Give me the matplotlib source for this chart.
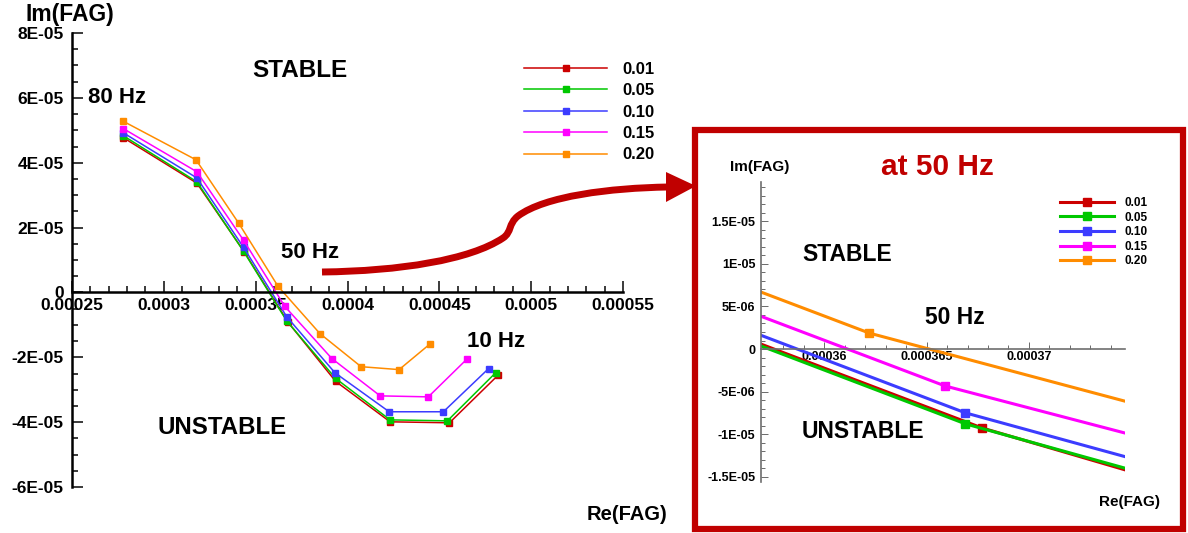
import matplotlib
matplotlib.use('Agg')
import matplotlib.pyplot as plt
from matplotlib.path import Path
from matplotlib.patches import PathPatch, Rectangle, Polygon
from matplotlib.ticker import MultipleLocator, FixedLocator
from matplotlib.lines import Line2D

plt.rcParams['font.family'] = ['Liberation Sans', 'DejaVu Sans']
plt.rcParams['font.weight'] = 'bold'

###################################################### data
# FAG trajectory from 80 Hz down to 10 Hz, one curve per parameter value
freqs = [80, 70, 60, 50, 40, 30, 20, 10]
cases = ['0.01', '0.05', '0.10', '0.15', '0.20']
colors = ['#cc0000', '#00c800', '#3c3cff', '#ff00ff', '#ff8c00']

re_001 = [0.000278, 0.000318, 0.0003438, 0.0003677, 0.0003935, 0.0004232, 0.0004555, 0.0004822]
im_001 = [4.77e-5, 3.37e-5, 1.25e-5, -9.25e-6, -2.74e-5, -3.99e-5, -4.02e-5, -2.54e-5]

re_005 = [0.000278, 0.000318, 0.0003434, 0.0003669, 0.0003935, 0.0004232, 0.0004544, 0.0004806]
im_005 = [4.83e-5, 3.41e-5, 1.27e-5, -8.78e-6, -2.65e-5, -3.93e-5, -3.96e-5, -2.48e-5]

re_010 = [0.000278, 0.000318, 0.0003434, 0.0003669, 0.0003932, 0.0004227, 0.0004522, 0.0004768]
im_010 = [4.92e-5, 3.53e-5, 1.39e-5, -7.49e-6, -2.48e-5, -3.68e-5, -3.68e-5, -2.35e-5]

re_015 = [0.000278, 0.000318, 0.0003434, 0.0003659, 0.0003915, 0.0004178, 0.000444, 0.0004653]
im_015 = [5.05e-5, 3.72e-5, 1.61e-5, -4.33e-6, -2.04e-5, -3.19e-5, -3.22e-5, -2.04e-5]

re_020 = [0.0002775, 0.0003175, 0.0003407, 0.0003622, 0.000385, 0.0004074, 0.0004281, 0.0004451]
im_020 = [5.29e-5, 4.09e-5, 2.14e-5, 1.87e-6, -1.27e-5, -2.29e-5, -2.38e-5, -1.58e-5]

series = [(re_001, im_001), (re_005, im_005), (re_010, im_010), (re_015, im_015), (re_020, im_020)]

main_xticks = [0.00025, 0.0003, 0.00035, 0.0004, 0.00045, 0.0005, 0.00055]
main_xlabels = ['0.00025', '0.0003', '0.00035', '0.0004', '0.00045', '0.0005', '0.00055']
main_yticks = [-6e-5, -4e-5, -2e-5, 0, 2e-5, 4e-5, 6e-5, 8e-5]
main_ylabels = ['-6E-05', '-4E-05', '-2E-05', '0', '2E-05', '4E-05', '6E-05', '8E-05']

zoom_xticks = [0.00036, 0.000365, 0.00037]
zoom_xlabels = ['0.00036', '0.000365', '0.00037']
zoom_yticks = [-1.5e-5, -1e-5, -5e-6, 0, 5e-6, 1e-5, 1.5e-5]
zoom_ylabels = ['-1.5E-05', '-1E-05', '-5E-06', '0', '5E-06', '1E-05', '1.5E-05']

W, H = 1188, 533
fig = plt.figure(figsize=(W / 100, H / 100), dpi=100)


def px_box(x0, y0, x1, y1):
    # pixel box (top-left origin) -> figure fraction rect
    return [x0 / W, 1 - y1 / H, (x1 - x0) / W, (y1 - y0) / H]


def style_axes(ax, color, lw, major_len, minor_len, fs, xpad, ypad):
    for s in ['top', 'right']:
        ax.spines[s].set_visible(False)
    ax.spines['bottom'].set_position(('data', 0))
    for s in ['left', 'bottom']:
        ax.spines[s].set_color(color)
        ax.spines[s].set_linewidth(lw)
    ax.tick_params(which='both', direction='in', colors=color, width=lw * 0.6)
    ax.tick_params(which='major', length=major_len)
    ax.tick_params(which='minor', length=minor_len)
    ax.tick_params(axis='x', which='major', pad=xpad, labelsize=fs, labelcolor='black')
    ax.tick_params(axis='y', which='major', pad=ypad, labelsize=fs, labelcolor='black')
    for lab in ax.get_xticklabels() + ax.get_yticklabels():
        lab.set_fontweight('bold')
    ax.set_facecolor('none')


###################################################### main plot
ax = fig.add_axes(px_box(72, 33, 623, 487))
for (re, im), c in zip(series, colors):
    ax.plot(re, im, color=c, lw=1.1, marker='s', ms=4.5, clip_on=False)
ax.set_xlim(0.00025, 0.00055)
ax.set_ylim(-6e-5, 8e-5)
ax.xaxis.set_major_locator(FixedLocator(main_xticks))
ax.set_xticklabels(main_xlabels)
ax.yaxis.set_major_locator(FixedLocator(main_yticks))
ax.set_yticklabels(main_ylabels)
ax.xaxis.set_minor_locator(MultipleLocator(0.00001))
ax.yaxis.set_minor_locator(MultipleLocator(0.5e-5))
style_axes(ax, 'black', 1.8, 8, 4, 12.5, 4, 6)

ax.text(0.0002587, 6.0e-5, '80 Hz', fontsize=16, va='center')
ax.text(0.0003484, 6.84e-5, 'STABLE', fontsize=17.5, va='center')
ax.text(0.0003637, 1.24e-5, '50 Hz', fontsize=16, va='center')
ax.text(0.0004653, -1.52e-5, '10 Hz', fontsize=16, va='center')
ax.text(0.0002964, -4.18e-5, 'UNSTABLE', fontsize=17.3, va='center')

handles = [Line2D([], [], color=c, lw=1.1, marker='s', ms=4.5) for c in colors]
fig.legend(handles, cases, loc='upper left', bbox_to_anchor=(524 / W, 1 - 62 / H),
           frameon=False, fontsize=12, handlelength=5, handletextpad=0.9,
           labelspacing=0.38, borderpad=0, borderaxespad=0)

fig.text(70 / W, 1 - 15 / H, 'Im(FAG)', fontsize=16.5, ha='center', va='center')
fig.text(627 / W, 1 - 514 / H, 'Re(FAG)', fontsize=14.5, ha='center', va='center')

###################################################### zoom at 50 Hz
overlay = fig.add_axes([0, 0, 1, 1])
overlay.set_xlim(0, W)
overlay.set_ylim(H, 0)
overlay.axis('off')
overlay.set_facecolor('none')

frame_red = '#c00000'
overlay.add_patch(Rectangle((695, 130), 488, 399, fill=False, ec=frame_red, lw=4.5))

verts = [(322, 272),
         (400, 271), (470, 260), (503, 238),
         (512, 232), (508, 224), (518, 216),
         (545, 196), (610, 188), (668, 187)]
codes = [Path.MOVETO] + [Path.CURVE4] * 9
overlay.add_patch(PathPatch(Path(verts, codes), fc='none', ec=frame_red, lw=5, capstyle='butt'))
overlay.add_patch(Polygon([(666, 172), (696, 186), (666, 202)], closed=True, fc=frame_red, ec='none'))

axz = fig.add_axes(px_box(761, 182, 1125, 482))
for (re, im), c in zip(series, colors):
    axz.plot(re, im, color=c, lw=2.2, marker='s', ms=6)
axz.set_xlim(0.0003569, 0.0003747)
axz.set_ylim(-1.56e-5, 1.96e-5)
axz.xaxis.set_major_locator(FixedLocator(zoom_xticks))
axz.set_xticklabels(zoom_xlabels)
axz.yaxis.set_major_locator(FixedLocator(zoom_yticks))
axz.set_yticklabels(zoom_ylabels)
axz.xaxis.set_minor_locator(MultipleLocator(1e-6))
axz.yaxis.set_minor_locator(MultipleLocator(1e-6))
style_axes(axz, '#6e6e6e', 1.2, 5, 3, 9, 1.5, 4)

axz.text(0.0003589, 1.11e-5, 'STABLE', fontsize=16.5, va='center')
axz.text(0.0003649, 3.75e-6, '50 Hz', fontsize=16.5, va='center')
axz.text(0.0003589, -9.7e-6, 'UNSTABLE', fontsize=16.5, va='center')

handles_z = [Line2D([], [], color=c, lw=2.2, marker='s', ms=6) for c in colors]
fig.legend(handles_z, cases, loc='upper left', bbox_to_anchor=(1060 / W, 1 - 197 / H),
           frameon=False, fontsize=8.5, handlelength=4.6, handletextpad=0.9,
           labelspacing=0.22, borderpad=0, borderaxespad=0)

fig.text(937 / W, 1 - 167 / H, 'at 50 Hz', fontsize=21.5, color=frame_red, ha='center', va='center')
fig.text(760 / W, 1 - 167 / H, 'Im(FAG)', fontsize=11, ha='center', va='center')
fig.text(1130 / W, 1 - 502 / H, 'Re(FAG)', fontsize=11, ha='center', va='center')

fig.savefig('out.png', dpi=100)
